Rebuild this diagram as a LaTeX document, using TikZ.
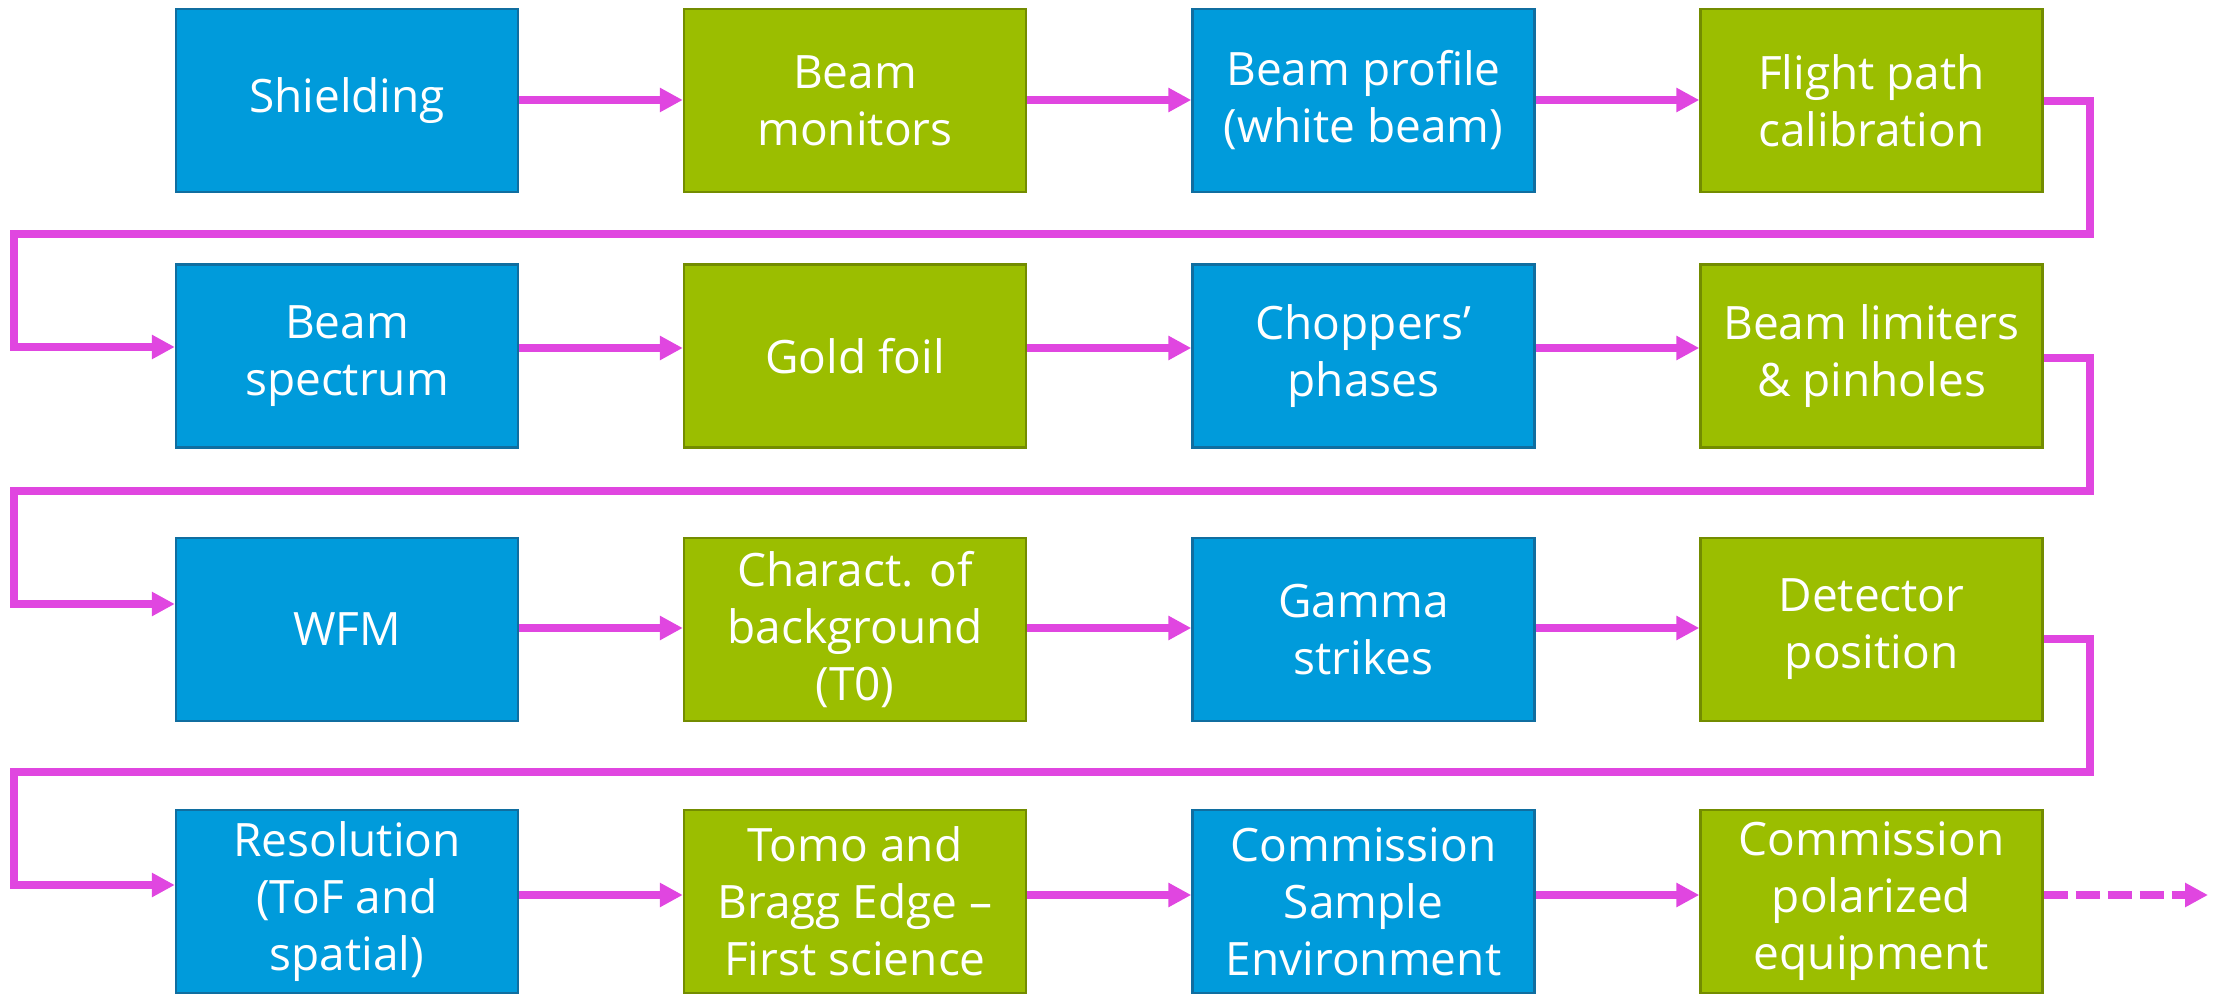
\documentclass[tikz,border=0pt]{standalone}
\usepackage{fontspec}
\setmainfont{Open Sans}
\usetikzlibrary{arrows.meta}
\definecolor{bfill}{RGB}{0,155,219}
\definecolor{bdraw}{RGB}{16,110,160}
\definecolor{gfill}{RGB}{155,190,0}
\definecolor{gdraw}{RGB}{115,140,0}
\definecolor{mag}{RGB}{224,70,224}
\begin{document}
\begin{tikzpicture}[x=0.5pt,y=-0.5pt,
  box/.style={minimum width=171pt, minimum height=91.5pt, inner sep=0pt, align=center,
    text=white, font=\fontsize{23}{28.5}\selectfont, line width=1.2pt},
  bbox/.style={box, fill=bfill, draw=bdraw},
  gbox/.style={box, fill=gfill, draw=gdraw},
  conn/.style={draw=mag, line width=4pt, -{Triangle[length=11.5pt,width=11.5pt]}, line join=miter},
  ]
\useasboundingbox (0,0) rectangle (2216,994);
% row 1
\node[bbox] (n11) at (347,100.5) {Shielding};
\node[gbox] (n12) at (855,100.5) {Beam\\monitors};
\node[bbox] (n13) at (1363.5,100.5) {Beam profile\\(white beam)};
\node[gbox] (n14) at (1871.5,100.5) {Flight path\\calibration};
% row 2
\node[bbox] (n21) at (347,356) {Beam\\spectrum};
\node[gbox] (n22) at (855,356) {Gold foil};
\node[bbox] (n23) at (1363.5,356) {Choppers’\\phases};
\node[gbox] (n24) at (1871.5,356) {Beam limiters\\\& pinholes};
% row 3
\node[bbox] (n31) at (347,629.5) {WFM};
\node[gbox] (n32) at (855,629.5) {Charact. of\\background\\(T0)};
\node[bbox] (n33) at (1363.5,629.5) {Gamma\\strikes};
\node[gbox] (n34) at (1871.5,629.5) {Detector\\position};
% row 4
\node[bbox] (n41) at (347,901.5) {Resolution\\(ToF and\\spatial)};
\node[gbox] (n42) at (855,901.5) {Tomo and\\Bragg Edge –\\First science};
\node[bbox] (n43) at (1363.5,901.5) {Commission\\Sample\\Environment};
\node[gbox] (n44) at (1871.5,901.5) {Commission\\polarized\\equipment};
% horizontal arrows
\draw[conn] (n11.east |- 0,100) -- (n12.west |- 0,100);
\draw[conn] (n12.east |- 0,100) -- (n13.west |- 0,100);
\draw[conn] (n13.east |- 0,100) -- (n14.west |- 0,100);
\draw[conn] (n21.east |- 0,348) -- (n22.west |- 0,348);
\draw[conn] (n22.east |- 0,348) -- (n23.west |- 0,348);
\draw[conn] (n23.east |- 0,348) -- (n24.west |- 0,348);
\draw[conn] (n31.east |- 0,628) -- (n32.west |- 0,628);
\draw[conn] (n32.east |- 0,628) -- (n33.west |- 0,628);
\draw[conn] (n33.east |- 0,628) -- (n34.west |- 0,628);
\draw[conn] (n41.east |- 0,895) -- (n42.west |- 0,895);
\draw[conn] (n42.east |- 0,895) -- (n43.west |- 0,895);
\draw[conn] (n43.east |- 0,895) -- (n44.west |- 0,895);
% wrap connectors
\coordinate (r1R) at (2090,234); \coordinate (r1L) at (14,234);
\coordinate (r2R) at (2090,491); \coordinate (r2L) at (14,491);
\coordinate (r3R) at (2090,772); \coordinate (r3L) at (14,772);
\draw[conn] (n14.east |- 0,101) -| (r1R) -- (r1L) |- (n21.west |- 0,347);
\draw[conn] (n24.east |- 0,358) -| (r2R) -- (r2L) |- (n31.west |- 0,604);
\draw[conn] (n34.east |- 0,639) -| (r3R) -- (r3L) |- (n41.west |- 0,885);
% continuation
\coordinate (cont) at (2208,895);
\draw[conn, dash pattern=on 12pt off 4pt] (n44.east |- 0,895) -- (cont);
\end{tikzpicture}
\end{document}
